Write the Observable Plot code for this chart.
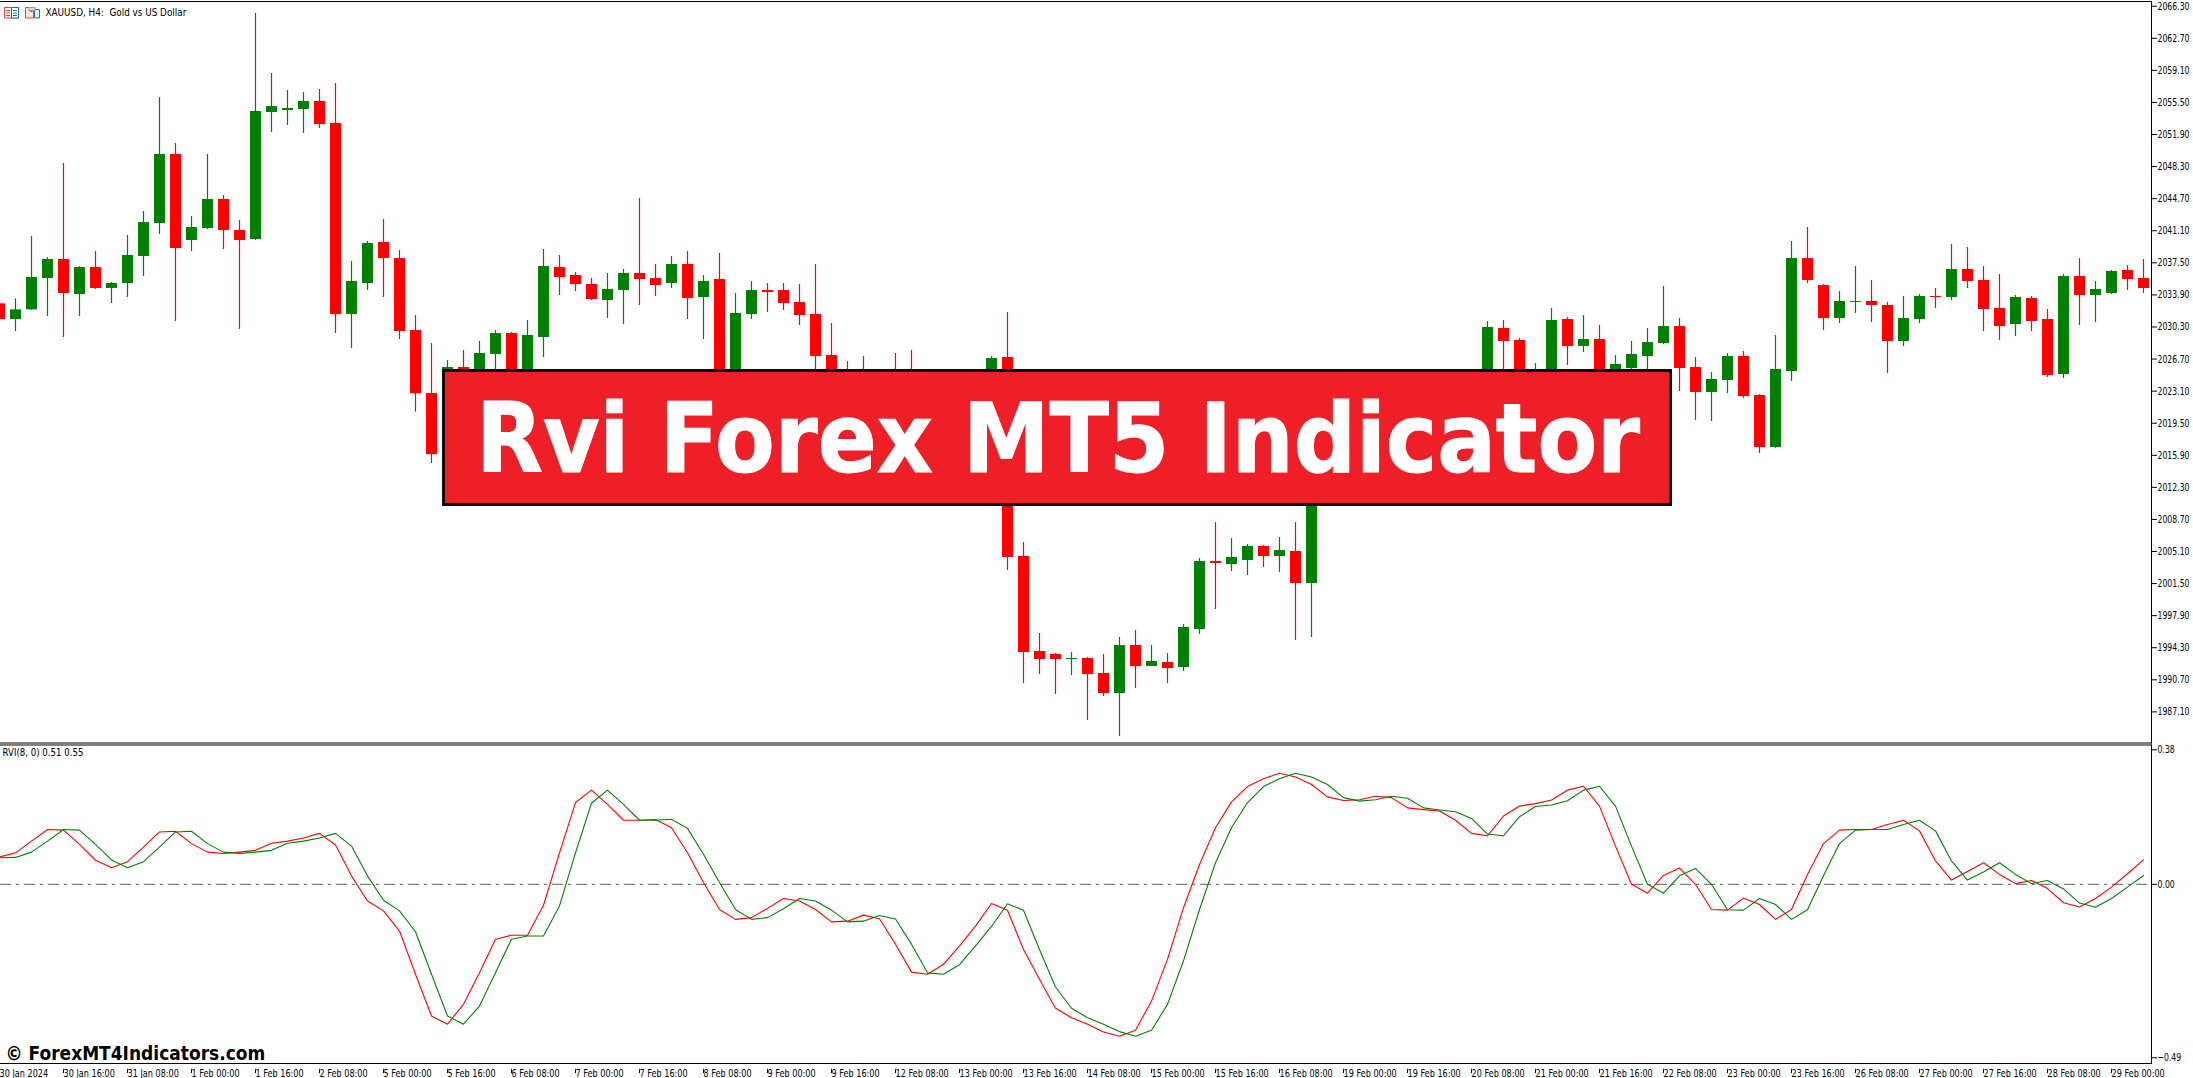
<!DOCTYPE html>
<html>
<head>
<meta charset="utf-8">
<script src="https://cdn.jsdelivr.net/npm/d3@7"></script>
<script src="https://cdn.jsdelivr.net/npm/@observablehq/plot@0.6"></script>
<style>
html,body{margin:0;padding:0;background:#fff;overflow:hidden;}
#wrap{position:relative;width:2193px;height:1078px;overflow:hidden;background:#fff;}
#top,#bottom{position:absolute;left:0;}
#top{top:0;} #bottom{top:744px;}
#wrap svg{overflow:hidden;font-family:"DejaVu Sans",sans-serif;}
#banner{position:absolute;left:442px;top:369px;width:1230px;height:137px;box-sizing:border-box;background:#ee1f27;border:3px solid #0d0d0d;overflow:hidden;}
#banner span{position:absolute;left:31px;top:19px;font:bold 96px/1 "DejaVu Sans Condensed","DejaVu Sans",sans-serif;color:#fff;white-space:nowrap;transform-origin:0 0;-webkit-text-stroke:1px #fff;}
#icons{position:absolute;left:4px;top:7px;}
</style>
</head>
<body>
<div id="wrap">
<div id="top"></div>
<div id="bottom"></div>
<svg id="icons" width="38" height="12" viewBox="0 0 38 12">
<rect x="0.5" y="0.5" width="14" height="10.5" fill="#fff" stroke="#d9483b"/><rect x="7.5" y="0.5" width="7" height="10.5" fill="#fff" stroke="#1f6fb5"/>
<path d="M2 3.5h4M2 6h4M2 8.5h4" stroke="#d9483b"/><path d="M9 3.5h4M9 6h4M9 8.5h4" stroke="#1f6fb5"/>
<path d="M21.5.5h5v4h2v-4h1v10.5h-8z" fill="#fde8e4" stroke="#d9483b"/><path d="M30.5 2.5h5v8.5h-5z" fill="#e4f0fb" stroke="#1f6fb5"/><rect x="25" y="0.5" width="6" height="3" fill="#ddd" stroke="#999"/>
</svg>
<div id="banner"><span id="bannerText">Rvi Forex MT5 Indicator</span></div>
</div>
<script>
const direction = "RGGGRGRGGG" + "GRGGRRGGGG" + "RRGGRRRRGR" + "GGRGGRRRGG" + "RRGRGRGGRR" + "RRRRGRRRGG" + "RRGRRRRGRR" + "GRGRGGRGGR" + "GRGRGRGRGG" + "RGGGRRGGRG" + "RGGGGRRGGR" + "RGGRRGGRRG" + "GRGRRRGRRG" + "RGGRR";
const bodyTop = [2032.90,2032.22,2035.85,2037.87,2037.87,2036.97,2036.97,2035.18,2038.32,2042.02,2049.66,2049.66,2041.46,2044.61,2044.61,2041.13,2054.48,2055.04,2054.82,2055.61,2055.61,2053.14,2035.40,2039.67,2039.78,2037.98,2029.90,2022.83,2025.75,2025.75,2027.32,2029.57,2029.57,2029.34,2037.09,2036.97,2036.08,2035.07,2034.51,2036.30,2036.30,2035.74,2037.31,2037.31,2035.40,2035.63,2031.81,2034.39,2034.39,2034.39,2033.05,2031.70,2027.10,2025.04,2024.67,2024.67,2025.04,2022.42,2022.80,2023.92,2023.92,2024.67,2026.76,2026.87,2004.54,1993.88,1993.54,1993.09,1993.09,1991.41,1994.55,1994.55,1992.76,1992.64,1996.57,2003.98,2003.98,2004.43,2005.66,2005.66,2005.21,2005.10,2020.18,2021.67,2021.67,2022.05,2022.80,2022.42,2023.92,2024.67,2024.85,2024.85,2025.23,2030.24,2030.13,2028.78,2025.41,2031.03,2031.14,2028.89,2028.89,2026.09,2027.21,2028.56,2030.35,2030.35,2025.75,2024.41,2026.99,2026.99,2022.61,2025.53,2037.98,2037.98,2034.95,2033.16,2033.16,2033.16,2032.71,2031.25,2033.72,2033.72,2036.75,2036.75,2035.52,2032.37,2033.61,2033.50,2031.14,2035.96,2035.96,2034.51,2036.53,2036.64,2035.74];
const bodyBottom = [2031.14,2031.14,2032.22,2035.74,2034.06,2033.94,2034.62,2034.62,2035.18,2038.21,2041.91,2039.11,2040.00,2041.35,2041.13,2040.00,2040.12,2054.37,2054.59,2054.71,2053.02,2031.70,2031.70,2035.18,2037.98,2029.79,2022.80,2015.99,2024.29,2025.41,2024.29,2027.21,2023.92,2023.92,2029.12,2035.85,2035.07,2033.38,2033.27,2034.39,2035.63,2034.95,2035.18,2033.50,2033.61,2022.42,2022.42,2031.70,2034.17,2032.93,2031.59,2026.99,2022.80,2023.54,2023.17,2022.05,2022.42,2020.55,2020.55,2022.42,2022.42,2023.54,2024.67,2004.43,1993.76,1992.98,1992.98,1992.98,1991.30,1989.16,1989.16,1992.19,1992.19,1991.97,1992.08,1996.34,2003.76,2003.64,2004.09,2004.54,2004.54,2001.51,2001.51,2019.43,2018.31,2020.55,2021.67,2020.55,2022.42,2023.92,2023.17,2023.17,2023.92,2024.29,2028.67,2025.04,2024.67,2024.85,2028.11,2028.11,2025.04,2025.04,2025.64,2026.99,2028.44,2025.64,2022.95,2022.95,2024.29,2022.50,2016.77,2016.77,2025.30,2035.52,2031.25,2031.25,2033.05,2032.71,2028.67,2028.67,2031.14,2033.61,2033.61,2035.40,2032.26,2030.35,2030.58,2030.91,2024.85,2024.97,2033.83,2033.83,2034.06,2035.63,2034.62];
const wickHigh = [2032.90,2033.46,2040.45,2038.09,2048.65,2037.09,2038.77,2035.29,2040.57,2043.26,2056.05,2050.89,2042.70,2049.66,2045.05,2042.25,2065.48,2058.75,2056.84,2056.61,2056.95,2057.62,2037.65,2039.89,2042.36,2038.88,2031.59,2028.44,2026.54,2027.66,2028.67,2029.90,2029.68,2031.03,2039.00,2038.32,2036.41,2035.74,2036.30,2036.75,2044.72,2037.31,2038.21,2038.77,2036.08,2038.55,2034.06,2035.40,2035.18,2035.18,2035.07,2037.31,2030.69,2026.42,2026.99,2025.23,2027.32,2027.66,2024.67,2025.04,2024.85,2025.23,2026.99,2031.92,2006.11,1995.90,1993.65,1993.76,1993.20,1993.54,1995.45,1996.23,1994.55,1993.65,1996.91,2004.32,2008.35,2006.56,2005.89,2005.78,2006.67,2008.35,2022.05,2022.80,2022.42,2023.17,2023.92,2023.54,2024.67,2025.23,2025.23,2025.23,2025.41,2030.91,2031.03,2029.01,2026.20,2032.37,2031.36,2031.59,2030.47,2027.10,2028.67,2030.13,2034.84,2031.25,2026.87,2025.19,2027.32,2027.55,2022.72,2029.34,2039.89,2041.46,2035.07,2034.28,2037.09,2035.52,2033.05,2033.72,2033.94,2034.62,2039.56,2039.22,2037.09,2036.19,2033.83,2033.72,2032.26,2036.19,2037.98,2035.40,2036.64,2037.20,2037.87];
const wickLow = [2031.14,2029.79,2032.15,2031.47,2029.12,2031.47,2034.51,2032.93,2033.61,2035.96,2040.68,2030.91,2038.77,2041.24,2038.99,2030.02,2040.00,2052.13,2052.91,2052.01,2052.57,2029.57,2027.88,2034.39,2033.61,2028.89,2020.74,2014.98,2023.17,2023.17,2023.36,2024.67,2022.98,2022.98,2026.87,2033.83,2034.28,2033.27,2031.25,2030.58,2032.71,2033.72,2034.62,2031.14,2028.89,2021.67,2021.30,2031.14,2031.92,2032.15,2030.47,2024.85,2021.67,2022.42,2022.05,2020.93,2021.30,2019.43,2019.43,2021.30,2021.49,2022.42,2023.17,2002.97,1990.29,1991.30,1989.05,1991.18,1986.13,1988.83,1984.34,1989.73,1992.19,1990.29,1991.63,1995.78,1998.59,2002.86,2002.41,2003.30,2002.74,1995.11,1995.45,2018.31,2017.56,2019.80,2020.55,2019.80,2021.30,2022.80,2022.42,2022.61,2022.98,2023.54,2024.67,2024.29,2023.92,2024.29,2025.98,2027.43,2024.48,2024.48,2025.23,2025.23,2028.33,2023.06,2019.80,2019.69,2022.83,2022.27,2016.10,2016.66,2024.18,2035.18,2029.90,2030.69,2031.81,2030.80,2025.08,2028.11,2030.69,2032.37,2033.27,2034.62,2029.79,2028.78,2029.23,2029.79,2024.63,2024.52,2030.47,2030.80,2033.94,2034.39,2034.06];

// ---- RVI(8) main and signal lines
const rviMain = [.077,.089,.122,.155,.153,.113,.068,.047,.064,.105,.148,.150,.115,.091,.087,.091,.096,.116,.122,.131,.144,.111,.024,-.047,-.075,-.132,-.254,-.372,-.395,-.339,-.250,-.155,-.144,-.144,-.059,.089,.231,.266,.226,.181,.181,.183,.160,.089,.005,-.071,-.099,-.094,-.068,-.040,-.047,-.071,-.106,-.104,-.087,-.097,-.169,-.248,-.254,-.226,-.174,-.118,-.054,-.073,-.184,-.268,-.350,-.377,-.395,-.417,-.429,-.412,-.330,-.212,-.066,.056,.160,.233,.276,.298,.314,.303,.282,.247,.237,.239,.249,.245,.216,.211,.207,.181,.144,.137,.193,.221,.228,.238,.266,.277,.221,.108,0,-.025,.025,.046,0,-.071,-.073,-.039,-.057,-.099,-.071,.028,.115,.153,.155,.155,.169,.181,.151,.066,.012,.036,.061,.028,.002,.011,-.012,-.052,-.064,-.040,-.008,.030,.069];
const rviSignal = [.075,.076,.091,.122,.155,.153,.113,.069,.047,.064,.105,.148,.150,.115,.091,.087,.091,.096,.116,.122,.131,.144,.108,.024,-.045,-.075,-.134,-.254,-.372,-.395,-.344,-.250,-.155,-.146,-.146,-.061,.089,.229,.266,.226,.181,.181,.184,.158,.085,.005,-.071,-.099,-.094,-.069,-.040,-.047,-.073,-.106,-.104,-.088,-.098,-.169,-.250,-.254,-.227,-.174,-.119,-.055,-.073,-.184,-.290,-.350,-.377,-.395,-.416,-.429,-.412,-.339,-.216,-.071,.061,.160,.231,.276,.298,.314,.303,.282,.245,.235,.239,.249,.243,.216,.210,.205,.186,.142,.137,.191,.220,.224,.236,.266,.277,.221,.108,0,-.025,.024,.045,0,-.072,-.073,-.040,-.057,-.099,-.072,.024,.115,.153,.155,.155,.169,.181,.151,.066,.012,.035,.061,.028,.002,.011,-.013,-.053,-.065,-.040,-.008,.025];

// ---- axis labels
const priceTicks = [2066.30,2062.70,2059.10,2055.50,2051.90,2048.30,2044.70,2041.10,2037.50,2033.90,2030.30,2026.70,2023.10,2019.50,2015.90,2012.30,2008.70,2005.10,2001.50,1997.90,1994.30,1990.70,1987.10];
const rviTicks = [0.38,0,-0.49];
const timeLabels = ["30 Jan 2024","30 Jan 16:00","31 Jan 08:00","1 Feb 00:00","1 Feb 16:00","2 Feb 08:00","5 Feb 00:00","5 Feb 16:00","6 Feb 08:00","7 Feb 00:00","7 Feb 16:00","8 Feb 08:00","9 Feb 00:00","9 Feb 16:00","12 Feb 08:00","13 Feb 00:00","13 Feb 16:00","14 Feb 08:00","15 Feb 00:00","15 Feb 16:00","16 Feb 08:00","19 Feb 00:00","19 Feb 16:00","20 Feb 08:00","21 Feb 00:00","21 Feb 16:00","22 Feb 08:00","23 Feb 00:00","23 Feb 16:00","26 Feb 08:00","27 Feb 00:00","27 Feb 16:00","28 Feb 08:00","29 Feb 00:00"];
const symbolTitle = "XAUUSD, H4:\u00A0 Gold vs US Dollar";
const rviTitle = "RVI(8, 0) 0.51 0.55";
const watermark = "\u00A9 ForexMT4Indicators.com";

const UP = "#008000", DOWN = "#ff0000";
const candles = bodyTop.map((t, i) => ({i, top: t, bottom: bodyBottom[i], high: wickHigh[i], low: wickLow[i], col: direction[i] === "G" ? UP : DOWN}));
const xOpts = {type: "linear", domain: [0, 134], range: [-1, 2143]};
const fmt2 = d3.format(".2f");

const pricePanel = Plot.plot({
  width: 2193, height: 744,
  marginLeft: 0, marginRight: 42, marginTop: 1, marginBottom: 1.5,
  x: {...xOpts, axis: null},
  y: {type: "linear", domain: [2066.3, 1987.1], range: [5.7, 711.4], axis: null},
  marks: [
    Plot.ruleX(candles, {x: "i", y1: "low", y2: "high", stroke: "col", strokeWidth: 1.2}),
    Plot.ruleX(candles, {x: "i", y1: "bottom", y2: "top", stroke: "col", strokeWidth: 11}),
    Plot.axisY({anchor: "right", ticks: priceTicks, tickFormat: fmt2, tickSize: 5, tickPadding: 1, fontSize: 11, stroke: "#000", fill: "#000"}),
    Plot.frame({anchor: "top", stroke: "#000"}),
    Plot.frame({anchor: "right", stroke: "#000"}),
    Plot.frame({anchor: "bottom", stroke: "#000"}),
    Plot.text([symbolTitle], {frameAnchor: "top-left", dx: 45, dy: 7, fontSize: 11, fill: "#000", textAnchor: "start", lineAnchor: "top"})
  ]
});
document.getElementById("top").appendChild(pricePanel);

const rviPanel = Plot.plot({
  width: 2193, height: 334,
  marginLeft: 0, marginRight: 42, marginTop: 0.5, marginBottom: 15,
  x: {...xOpts, axis: null},
  y: {type: "linear", domain: [0.38, -0.49], range: [5.3, 313.3], axis: null},
  marks: [
    Plot.ruleY([0], {stroke: "#808080", strokeWidth: 1.4, strokeDasharray: "11 5 3 5"}),
    Plot.line(rviMain, {x: (d, i) => i, y: d => d, stroke: DOWN, strokeWidth: 1.1, curve: "linear"}),
    Plot.line(rviSignal, {x: (d, i) => i, y: d => d, stroke: UP, strokeWidth: 1.1, curve: "linear"}),
    Plot.axisY({anchor: "right", ticks: rviTicks, tickFormat: fmt2, tickSize: 5, tickPadding: 1, fontSize: 11, stroke: "#000", fill: "#000"}),
    Plot.axisX({anchor: "bottom", ticks: timeLabels.map((_, k) => k * 4), tickFormat: i => timeLabels[i / 4], tickSize: 4, tickPadding: 0, textAnchor: "start", lineAnchor: "middle", fontSize: 11, dy: 6, stroke: "#000", fill: "#000"}),
    Plot.frame({anchor: "top", stroke: "#000"}),
    Plot.frame({anchor: "right", stroke: "#000"}),
    Plot.frame({anchor: "bottom", stroke: "#000"}),
    Plot.text([rviTitle], {frameAnchor: "top-left", dx: 2, dy: 3, fontSize: 11, fill: "#000", textAnchor: "start", lineAnchor: "top"}),
    Plot.text([watermark], {frameAnchor: "top-left", dx: 5, dy: 301, fontSize: 20, fontWeight: "bold", fill: "#000", textAnchor: "start", lineAnchor: "top"})
  ]
});
document.getElementById("bottom").appendChild(rviPanel);

// The reference's labels are a tall, narrow bitmap face: squeeze each text horizontally to its run.
const fixedWidth = new Map([[symbolTitle, 141], [rviTitle, 81], [watermark, 260]]);
const timeSet = new Set(timeLabels);
document.querySelectorAll("#top svg text, #bottom svg text").forEach(t => {
  const s = t.textContent;
  const w = t.getComputedTextLength();
  const sx = fixedWidth.has(s) ? fixedWidth.get(s) / w : (timeSet.has(s) ? 0.74 : 0.705);
  t.setAttribute("transform", `${t.getAttribute("transform") || ""} scale(${sx},1)`);
});

// Fit the banner text to the reference's run.
const span = document.getElementById("bannerText");
const natural = span.getBoundingClientRect().width;
span.style.transform = `scaleX(${1164 / natural})`;
</script>
</body>
</html>
